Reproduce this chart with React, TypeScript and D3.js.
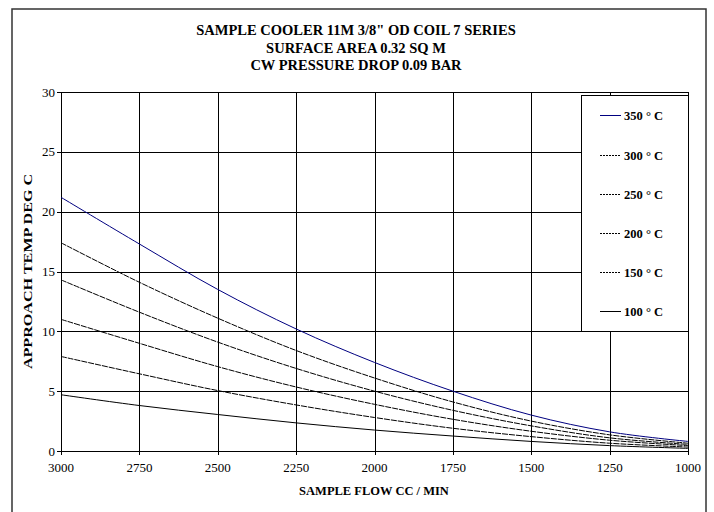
import React from "react";
import * as d3 from "d3";

const flows = [3000, 2750, 2500, 2250, 2000, 1750, 1500, 1250, 1000];
const s350 = [21.2, 17.3, 13.5, 10.2, 7.4, 5.0, 3.0, 1.6, 0.8];
const s300 = [17.4, 14.1, 11.1, 8.4, 6.1, 4.1, 2.5, 1.35, 0.65];
const s250 = [14.3, 11.6, 9.1, 6.9, 5.0, 3.4, 2.1, 1.1, 0.55];
const s200 = [11.0, 9.0, 7.05, 5.35, 3.9, 2.65, 1.65, 0.9, 0.45];
const s150 = [7.9, 6.45, 5.05, 3.85, 2.8, 1.9, 1.2, 0.65, 0.33];
const s100 = [4.7, 3.8, 3.05, 2.35, 1.75, 1.25, 0.8, 0.45, 0.22];
const seriesNames = ["350 ° C", "300 ° C", "250 ° C", "200 ° C", "150 ° C", "100 ° C"];
const yTicks = [0, 5, 10, 15, 20, 25, 30];
const titleLines = [
  "SAMPLE COOLER 11M 3/8\" OD COIL 7 SERIES",
  "SURFACE AREA 0.32 SQ M",
  "CW PRESSURE DROP 0.09 BAR",
];

const series = [s350, s300, s250, s200, s150, s100];
const styles = [
  { stroke: "#000080", dash: undefined },
  { stroke: "#000", dash: "6,1" },
  { stroke: "#000", dash: "6,1" },
  { stroke: "#000", dash: "6,1" },
  { stroke: "#000", dash: "6,1" },
  { stroke: "#000", dash: undefined },
];

export default function App() {
  const W = 714, H = 512;
  const L = 61, R = 688, T = 92, B = 451;
  const x = d3.scaleLinear().domain([3000, 1000]).range([L, R]);
  const y = d3.scaleLinear().domain([0, 30]).range([B, T]);
  const line = d3
    .line<number>()
    .x((_, i) => x(flows[i]))
    .y((d) => y(d))
    .curve(d3.curveCatmullRom.alpha(0.5));
  const font = "'Liberation Serif', 'Times New Roman', serif";
  const legX = 581, legY = 95, legW = 107, legH = 236;
  const legRows = [115, 155, 194, 233, 272, 311];

  return (
    <svg
      width={W}
      height={H}
      style={{ position: "absolute", left: 0, top: 0, background: "#fff" }}
      fontFamily={font}
    >
      <rect x={12} y={9} width={694} height={520} fill="#fff" stroke="#333" strokeWidth={1.5} />
      {titleLines.map((t, i) => (
        <text key={i} x={356} y={35 + i * 17.5} textAnchor="middle" fontWeight="bold" fontSize={14.5}>
          {t}
        </text>
      ))}
      {yTicks.map((v) => (
        <line key={"h" + v} x1={L} x2={R} y1={Math.round(y(v)) + 0.5} y2={Math.round(y(v)) + 0.5} stroke="#000" strokeWidth={1} />
      ))}
      {flows.map((f) => (
        <line key={"v" + f} x1={Math.round(x(f)) + 0.5} x2={Math.round(x(f)) + 0.5} y1={T} y2={B + 4} stroke="#000" strokeWidth={1} />
      ))}
      {yTicks.map((v) => (
        <line key={"t" + v} x1={L - 4} x2={L} y1={Math.round(y(v)) + 0.5} y2={Math.round(y(v)) + 0.5} stroke="#000" />
      ))}
      {series.map((s, i) => (
        <path
          key={i}
          d={line(s) || ""}
          fill="none"
          stroke={styles[i].stroke}
          strokeWidth={1}
          strokeDasharray={styles[i].dash}
        />
      ))}
      {yTicks.map((v) => (
        <text key={"yl" + v} x={L - 6} y={y(v) + 4.5} textAnchor="end" fontSize={13}>
          {v}
        </text>
      ))}
      {flows.map((f) => (
        <text key={"xl" + f} x={x(f)} y={472} textAnchor="middle" fontSize={13}>
          {f}
        </text>
      ))}
      <text x={374} y={495} textAnchor="middle" fontWeight="bold" fontSize={12.5}>
        SAMPLE FLOW CC / MIN
      </text>
      <text
        transform={`translate(32, ${(T + B) / 2}) rotate(-90) scale(1.29, 1)`}
        textAnchor="middle"
        fontWeight="bold"
        fontSize={12.5}
      >
        APPROACH TEMP DEG C
      </text>
      <rect x={legX + 0.5} y={legY + 0.5} width={legW} height={legH} fill="#fff" stroke="#000" strokeWidth={1} />
      {seriesNames.map((n, i) => (
        <g key={n}>
          <line
            x1={600}
            x2={621}
            y1={legRows[i] + 0.5}
            y2={legRows[i] + 0.5}
            stroke={styles[i].stroke}
            strokeDasharray={styles[i].dash ? "2,1" : undefined}
          />
          <text x={624} y={legRows[i] + 4.5} fontWeight="bold" fontSize={12.5}>
            {n}
          </text>
        </g>
      ))}
    </svg>
  );
}
